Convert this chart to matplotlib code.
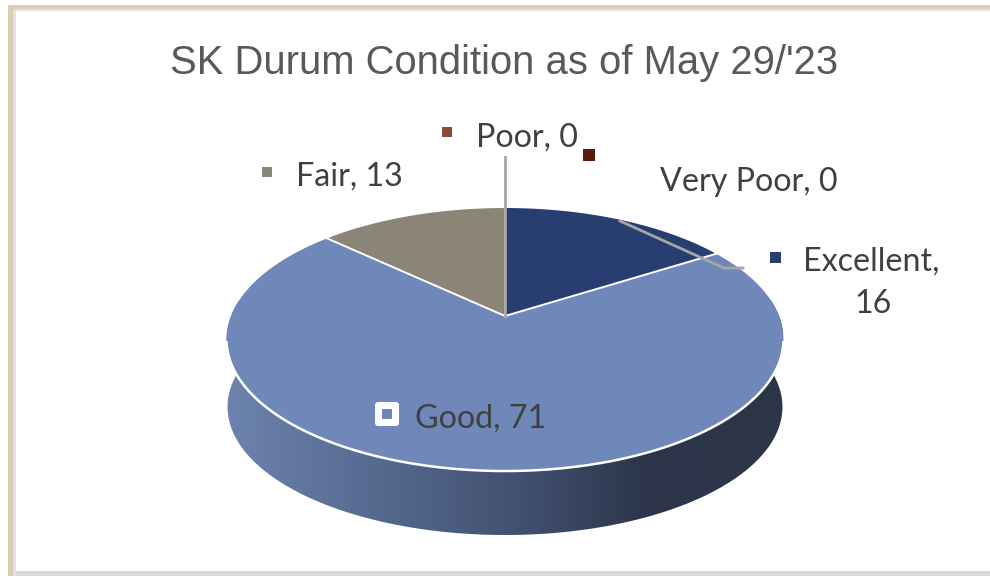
import numpy as np
import matplotlib
matplotlib.use("Agg")
import matplotlib.pyplot as plt
from matplotlib.patches import Polygon, Rectangle, FancyBboxPatch, PathPatch
from matplotlib.path import Path
from matplotlib.colors import LinearSegmentedColormap

categories = ['Excellent', 'Good', 'Fair', 'Poor', 'Very Poor']
values = [16, 71, 13, 0, 0]
colors = ['#283d70', '#7087b9', '#8b8577', '#8a4a35', '#5e1a08']
title = "SK Durum Condition as of May 29/'23"

fig = plt.figure(figsize=(9.9, 5.76), dpi=100)
ax = fig.add_axes([0, 0, 1, 1])
ax.set_xlim(0, 990)
ax.set_ylim(576, 0)
ax.axis('off')

# marco de la imagen (sin borde a la derecha)
ax.add_patch(Rectangle((8, 5), 982, 571, fc='#d8cfb5', ec='none', zorder=0))
ax.add_patch(Rectangle((13, 9), 977, 567, fc='#e2e2e4', ec='none', zorder=0))
ax.add_patch(Rectangle((16, 11), 974, 560, fc='white', ec='none', zorder=0))
ax.add_patch(Rectangle((16, 571), 974, 5, fc='#d9d9d9', ec='none', zorder=0))


# pie inclinado: circulo unitario proyectado en perspectiva
def proyectar(ang, cx=505, cy=316, a=274, b=127.3, k=0.179):
    x_u, y_u = np.sin(ang), np.cos(ang)
    w = 1 + k * y_u
    return cx + a * x_u / w, cy - b * y_u / w


# lado del pie con degradado
t = np.linspace(np.pi / 2 - 0.3, 3 * np.pi / 2 + 0.3, 200)
x_top, y_top = proyectar(t)
x_bot, y_bot = proyectar(t, cy=384, a=273, b=124)
lado = np.vstack([np.column_stack([x_top, y_top]), np.column_stack([x_bot, y_bot])[::-1]])
cmap = LinearSegmentedColormap.from_list('lado', [
    (0, '#6c83ad'), (0.3, '#53678c'), (0.55, '#3f4e6d'), (0.75, '#2d364b'), (1, '#2c3547')])
im = ax.imshow(np.linspace(0, 1, 256).reshape(1, -1), cmap=cmap, extent=(226, 783, 540, 300),
               aspect='auto', zorder=1)
clip = PathPatch(Path(lado), transform=ax.transData, fc='none', ec='none')
ax.add_patch(clip)
im.set_clip_path(clip)
ax.set_xlim(0, 990)
ax.set_ylim(576, 0)

# cara superior, rebanadas desde los valores
total = sum(values)
inicio = 0
for cat, val, col in zip(categories, values, colors):
    if val == 0:
        continue
    fin = inicio + val / total * 2 * np.pi
    ang = np.linspace(inicio, fin, 150)
    xs, ys = proyectar(ang)
    pts = np.column_stack([np.r_[505, xs], np.r_[316, ys]])
    ax.add_patch(Polygon(pts, closed=True, fc=col, ec='none', zorder=2))
    # separadores blancos
    ax.plot([505, xs[-1]], [316, ys[-1]], color='white', lw=1.4, zorder=2.5)
    inicio = fin

# borde blanco del frente
x_arc, y_arc = proyectar(np.linspace(np.pi / 2 + 0.2, 3 * np.pi / 2 - 0.2, 200))
ax.plot(x_arc, y_arc, color='white', lw=1.8, zorder=2.5)

# lineas guia
ax.plot([505, 505], [157, 316], color='#a6a6a6', lw=2, zorder=3)
ax.plot([620, 724, 743], [221, 268, 268], color='#a6a6a6', lw=2, zorder=3)

# etiquetas
ax.text(504, 63, title, family='Liberation Sans', fontsize=28.8, color='#595959',
        ha='center', va='center')
lab = dict(family='Lato', fontsize=23.2, color='#404040', va='center', zorder=5)
ax.text(476, 138, 'Poor, 0', **lab)
ax.text(660, 182, 'Very Poor, 0', **lab)
ax.text(296, 177, 'Fair, 13', **lab)
ax.text(803, 262, 'Excellent,', **lab)
ax.text(873, 304, '16', ha='center', **lab)
ax.text(415, 419, 'Good, 71', **lab)

# claves de la leyenda
for (x, y, s), col in zip([(775, 257, 11), (447, 132, 10), (589, 155, 12), (267, 172, 10)],
                          [colors[0], colors[3], colors[4], colors[2]]):
    ax.add_patch(Rectangle((x - s / 2, y - s / 2), s, s, fc=col, ec='none', zorder=5))
ax.add_patch(FancyBboxPatch((379, 406), 16, 16, boxstyle='round,pad=4,rounding_size=3',
                            fc='white', ec='none', zorder=5))
ax.add_patch(Rectangle((382, 409), 10, 10, fc=colors[1], ec='none', zorder=6))

fig.savefig('out.png', dpi=100)
